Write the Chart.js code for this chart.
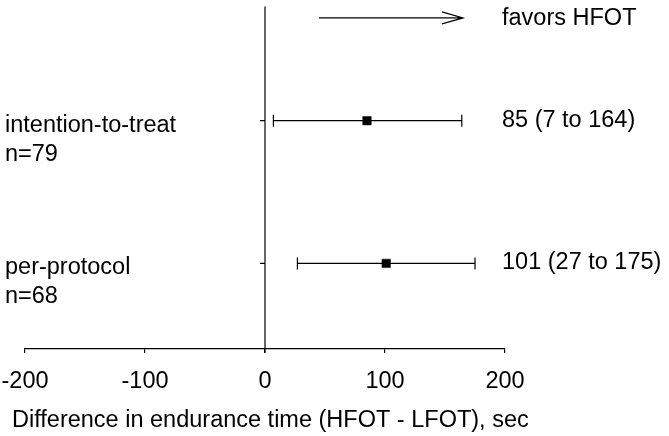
<!DOCTYPE html>
<html>
<head>
<meta charset="utf-8">
<script src="https://cdn.jsdelivr.net/npm/chart.js@4/dist/chart.umd.min.js"></script>
<style>
  html, body { margin: 0; padding: 0; background: #fff; }
  #wrap { width: 669px; height: 436px; }
</style>
</head>
<body>
<div id="wrap"><canvas id="forest"></canvas></div>
<script>
// Forest plot data
const groups = ['intention-to-treat', 'per-protocol'];
const sizes = ['n=79', 'n=68'];
const rows = [2, 1];                 // vertical slot of each group
const estimates = [85, 101];
const lower = [7, 27];
const upper = [164, 175];
const xTicks = [-200, -100, 0, 100, 200];
const xTitle = 'Difference in endurance time (HFOT - LFOT), sec';
const arrowFrom = 45, arrowTo = 165;   // "favors HFOT" arrow, in seconds
const arrowRow = 2.72;

const FAMILY = '"Liberation Sans", Arial, sans-serif';
const FONT = '23.5px ' + FAMILY;

// Draws the zero line, row ticks, error bars, arrow and the text labels
const forestPlugin = {
    id: 'forest',
    beforeDatasetsDraw(chart) {
        const ctx = chart.ctx;
        const x = chart.scales.x;
        const y = chart.scales.y;
        const area = chart.chartArea;
        const x0 = x.getPixelForValue(0);

        ctx.save();
        ctx.strokeStyle = '#000';
        ctx.lineWidth = 1.2;

        // vertical line at 0
        ctx.beginPath();
        ctx.moveTo(x0, area.top);
        ctx.lineTo(x0, area.bottom + 4);
        ctx.stroke();

        rows.forEach((r, i) => {
            const py = y.getPixelForValue(r);
            // small tick on the zero line
            ctx.beginPath();
            ctx.moveTo(x0 - 5, py);
            ctx.lineTo(x0, py);
            ctx.stroke();

            // confidence interval
            const lo = x.getPixelForValue(lower[i]);
            const hi = x.getPixelForValue(upper[i]);
            ctx.beginPath();
            ctx.moveTo(lo, py);
            ctx.lineTo(hi, py);
            ctx.moveTo(lo, py - 6);
            ctx.lineTo(lo, py + 6);
            ctx.moveTo(hi, py - 6);
            ctx.lineTo(hi, py + 6);
            ctx.stroke();
        });

        // arrow
        const ay = y.getPixelForValue(arrowRow);
        const a1 = x.getPixelForValue(arrowFrom);
        const a2 = x.getPixelForValue(arrowTo);
        ctx.beginPath();
        ctx.moveTo(a1, ay);
        ctx.lineTo(a2, ay);
        ctx.moveTo(a2 - 21, ay - 6);
        ctx.lineTo(a2, ay);
        ctx.lineTo(a2 - 21, ay + 6);
        ctx.stroke();
        ctx.restore();
    },
    afterDraw(chart) {
        const ctx = chart.ctx;
        const y = chart.scales.y;
        const ay = y.getPixelForValue(arrowRow);
        ctx.save();
        ctx.fillStyle = '#000';
        ctx.font = FONT;
        ctx.textAlign = 'left';
        ctx.textBaseline = 'alphabetic';
        ctx.fillText('favors HFOT', 502, ay + 7);
        rows.forEach((r, i) => {
            const py = y.getPixelForValue(r);
            ctx.fillText(groups[i], 5, py + 11);
            ctx.fillText(sizes[i], 5, py + 40);
            ctx.fillText(estimates[i] + ' (' + lower[i] + ' to ' + upper[i] + ')', 502, py + 6);
        });
        // axis title, drawn here so it is not squeezed to the axis width
        ctx.fillText(xTitle, 12, 427);
        ctx.restore();
    }
};

const ctx = document.getElementById('forest').getContext('2d');
const forestChart = new Chart(ctx, {
    type: 'scatter',
    data: {
        datasets: [{
            data: estimates.map((v, i) => ({ x: v, y: rows[i] })),
            pointStyle: 'rect',
            pointRadius: 6,
            pointHoverRadius: 6,
            backgroundColor: '#000',
            borderColor: '#000',
            borderWidth: 0.5
        }]
    },
    options: {
        responsive: true,
        maintainAspectRatio: false,
        animation: false,
        events: [],
        layout: { padding: { left: 25, right: 164, top: 3, bottom: 0 } },
        plugins: {
            legend: { display: false },
            tooltip: { enabled: false }
        },
        scales: {
            x: {
                type: 'linear',
                min: -200,
                max: 200,
                afterBuildTicks: (scale) => { scale.ticks = xTicks.map(v => ({ value: v })); },
                afterFit: (scale) => {
                    scale.height = 87;
                    scale.paddingLeft = 0;
                    scale.paddingRight = 0;
                },
                ticks: {
                    color: '#000',
                    padding: 14,
                    font: { family: FAMILY, size: 23.5 }
                },
                grid: {
                    drawOnChartArea: false,
                    drawTicks: true,
                    tickLength: 4,
                    color: '#000',
                    lineWidth: 1.2
                },
                border: { display: true, color: '#000', width: 1.2 }
            },
            y: {
                type: 'linear',
                display: false,
                min: 0.4,
                max: 2.8
            }
        }
    },
    plugins: [forestPlugin]
});
</script>
</body>
</html>
